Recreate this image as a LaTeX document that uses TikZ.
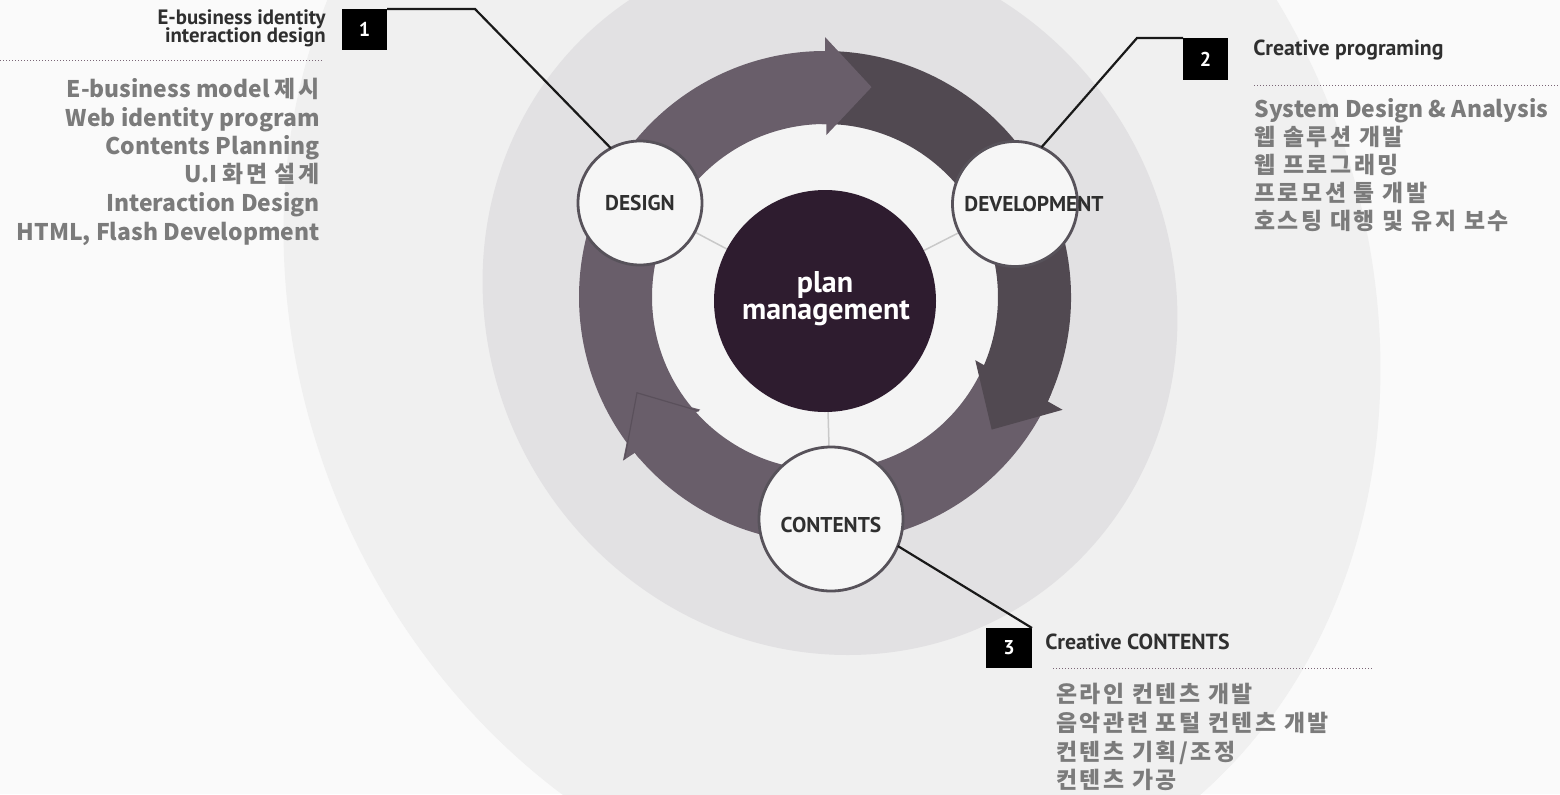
\documentclass[tikz,border=0pt]{standalone}
\usepackage{fontspec}
\newfontfamily\ptsans{PT Sans}
\newfontfamily\krfont{Noto Sans CJK KR}
\newfontfamily\krsp{Noto Sans CJK KR}[LetterSpace=11]
\newcommand\kosp[1]{{\krsp #1}}
\definecolor{bgcol}{HTML}{FAFAFA}
\definecolor{outercol}{HTML}{F0F0F0}
\definecolor{midcol}{HTML}{E2E1E3}
\definecolor{innercol}{HTML}{F4F4F4}
\definecolor{ringlight}{HTML}{695E6A}
\definecolor{ringdark}{HTML}{514951}
\definecolor{headedge}{HTML}{5A505B}
\definecolor{centercol}{HTML}{2E1C2F}
\definecolor{circfill}{HTML}{F6F6F6}
\definecolor{circline}{HTML}{57525A}
\definecolor{spokecol}{HTML}{C9C9C9}
\definecolor{listgrey}{HTML}{7B7B7B}
\definecolor{hdrcol}{HTML}{2F2F2F}
\definecolor{dotcol}{HTML}{7A6676}
\begin{document}
\begin{tikzpicture}[x=0.5pt,y=-0.5pt,
  smallc/.style={circle, fill=circfill, draw=circline, line width=1.4pt, inner sep=0pt, outer sep=0pt},
  lbl/.style={font=\ptsans\bfseries\fontsize{10.7}{12}\selectfont, text=hdrcol, inner sep=0pt},
  hdr/.style={font=\ptsans\bfseries\fontsize{10.4}{8}\selectfont, text=hdrcol, inner sep=0pt},
  hdrb/.style={font=\ptsans\bfseries\fontsize{10.9}{12}\selectfont, text=hdrcol, inner sep=0pt},
  lst/.style={font=\krfont\bfseries\fontsize{11.45}{14}\selectfont, text=listgrey, inner sep=0pt},
  numbox/.style={fill=black, text=white, font=\ptsans\bfseries\fontsize{10}{12}\selectfont, inner sep=0pt, outer sep=0pt},
  conn/.style={draw=black!90, line width=1.1pt},
  spoke/.style={draw=spokecol, line width=0.75pt},
  dotline/.style={draw=dotcol, line width=0.5pt, dash pattern=on 0.5pt off 1pt}
]
\useasboundingbox (0,0) rectangle (1560,794);
\fill[bgcol] (0,0) rectangle (1560,794);
\begin{scope}
  \clip (0,0) rectangle (1560,794);
  \begin{scope}[shift={(832,300)}, xslant=-0.1]
    \fill[outercol] (0,0) ellipse [x radius=545, y radius=610];
  \end{scope}
  \begin{scope}[shift={(830,300)}, xslant=-0.05]
    \fill[midcol] (0,0) ellipse [x radius=347, y radius=355];
  \end{scope}
\end{scope}
% inner disk
\fill[innercol] (825,297) circle [radius=173];
% ring of three arrows
\begin{scope}[shift={(825,297)}]
  \fill[ringlight] (23:173) arc[start angle=23, end angle=140, radius=173] -- (140:246) arc[start angle=140, end angle=23, radius=246] -- cycle;
  \fill[ringdark] (269:173) arc[start angle=269, end angle=385.5, radius=173] -- (385.5:246) arc[start angle=385.5, end angle=269, radius=246] -- cycle;
  \fill[ringlight] (139:173) arc[start angle=139, end angle=271, radius=173] -- (271:246) arc[start angle=271, end angle=139, radius=246] -- cycle;
  % arrow heads
  \fill[ringlight] (270.5:162) -- (270:260) -- (282.5:215) -- cycle;
  \fill[ringdark] (22.8:163) -- (25.4:263) -- (38.5:213) -- cycle;
  \fill[ringlight] (137.9:168) -- (141:260) -- (153:211) -- cycle;
  \draw[headedge, line width=0.6pt, line join=miter] (137.9:170) -- (153:211) -- (141:258);
\end{scope}
% nodes
\coordinate (ctr) at (825,301);
\coordinate (designc) at (640,203);
\coordinate (develc) at (1015,204);
\coordinate (contentsc) at (831,519);
\draw[spoke] (ctr) -- (designc);
\draw[spoke] (ctr) -- (develc);
\draw[spoke] (ctr) -- (contentsc);
\node[circle, fill=centercol, minimum size=111pt, inner sep=0pt] (center) at (ctr) {};
\node[smallc, minimum size=62pt] (design) at (designc) {};
\node[smallc, minimum size=62.5pt] (devel) at (develc) {};
\node[smallc, minimum size=72pt] (contents) at (contentsc) {};
\node[lbl, anchor=base] (designlbl) at (640,210) {DESIGN};
\node[lbl, anchor=base] (devellbl) at (1034,211) {DEVELOPMENT};
\node[lbl, anchor=base] (contentslbl) at (831,532) {CONTENTS};
\node[font=\ptsans\bfseries\fontsize{15}{16}\selectfont, text=white, inner sep=0pt, anchor=base] (plan) at (825,292) {plan};
\node[font=\ptsans\bfseries\fontsize{15}{16}\selectfont, text=white, inner sep=0pt, anchor=base] (mgmt) at (826,319) {management};
% number boxes
\node[numbox, minimum width=22.5pt, minimum height=20.5pt] (b1) at (364.5,29.5) {1};
\node[numbox, minimum width=22.5pt, minimum height=21pt] (b2) at (1205.5,59) {2};
\node[numbox, minimum width=23pt, minimum height=20pt] (b3) at (1009,648) {3};
% connectors
\coordinate (k1) at (475,9);
\coordinate (k2) at (1137,38);
\draw[conn] (b1.north east) -- (k1) -- (design.118);
\draw[conn] (b2.north west) -- (k2) -- (devel.65);
\draw[conn] (contents.-22) -- (b3.north east);
% dotted rules
\coordinate (d1a) at (0,60); \coordinate (d1b) at (322,60);
\coordinate (d2a) at (1254,85); \coordinate (d2b) at (1560,85);
\coordinate (d3a) at (1053,668); \coordinate (d3b) at (1372,668);
\draw[dotline] (d1a) -- (d1b);
\draw[dotline] (d2a) -- (d2b);
\draw[dotline] (d3a) -- (d3b);
% headers
\node[hdr, anchor=base east] (h1a) at (326,24) {E-business identity};
\node[hdr, anchor=base east] (h1b) at (326,42) {interaction design};
\node[hdrb, anchor=base west] (h2) at (1253,55) {Creative programing};
\node[hdrb, anchor=base west] (h3) at (1045,649) {Creative CONTENTS};
% list 1
\node[lst, anchor=base east] (l1a) at (320,97) {E-business model \kosp{제시}};
\node[lst, anchor=base east] (l1b) at (320,126) {Web identity program};
\node[lst, anchor=base east] (l1c) at (320,154) {Contents Planning};
\node[lst, anchor=base east] (l1d) at (320,182) {U.I \kosp{화면 설계}};
\node[lst, anchor=base east] (l1e) at (320,211) {Interaction Design};
\node[lst, anchor=base east] (l1f) at (320,240) {HTML, Flash Development};
% list 2
\node[lst, anchor=base west] (l2a) at (1254,117) {System Design \& Analysis};
\node[lst, anchor=base west] (l2b) at (1254,145) {\kosp{웹 솔루션 개발}};
\node[lst, anchor=base west] (l2c) at (1254,173) {\kosp{웹 프로그래밍}};
\node[lst, anchor=base west] (l2d) at (1254,201) {\kosp{프로모션 툴 개발}};
\node[lst, anchor=base west] (l2e) at (1254,229) {\kosp{호스팅 대행 및 유지 보수}};
% list 3
\node[lst, anchor=base west] (l3a) at (1056,702) {\kosp{온라인 컨텐츠 개발}};
\node[lst, anchor=base west] (l3b) at (1056,731) {\kosp{음악관련 포털 컨텐츠 개발}};
\node[lst, anchor=base west] (l3c) at (1056,760) {\kosp{컨텐츠 기획/조정}};
\node[lst, anchor=base west] (l3d) at (1056,788) {\kosp{컨텐츠 가공}};
\end{tikzpicture}
\end{document}
